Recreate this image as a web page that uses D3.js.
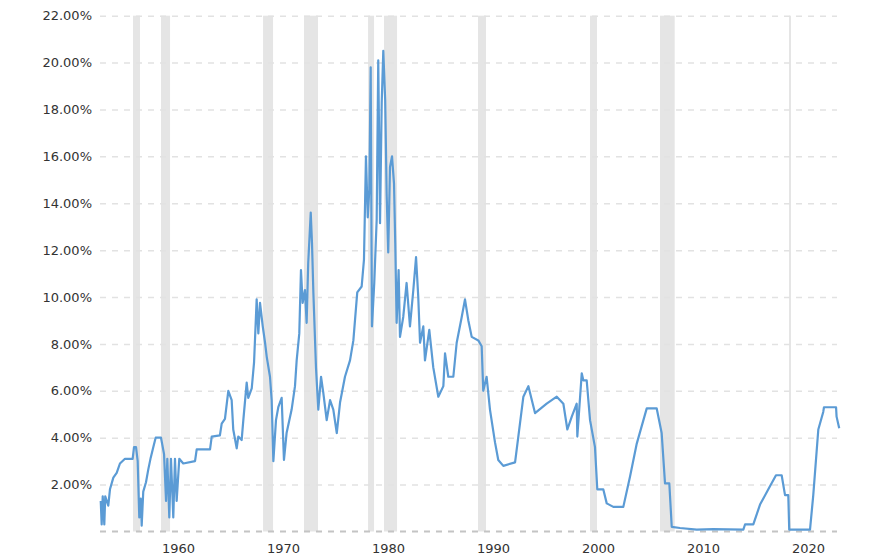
<!DOCTYPE html>
<html>
<head>
<meta charset="utf-8">
<script src="https://cdn.jsdelivr.net/npm/d3@7"></script>
<style>
  body { margin: 0; background: #fff; }
  text { font-family: "DejaVu Sans", Verdana, sans-serif; font-size: 13px; fill: #333; }
</style>
</head>
<body>
<svg width="888" height="560"></svg>
<script>
// decimal year (as placed on the chart's time axis)
var years = [1952.64,1952.73,1952.83,1952.98,1953.07,1953.36,1953.52,1953.84,1954.16,1954.47,1954.95,1955.68,1955.81,1956.0,1956.16,1956.31,1956.45,1956.54,1956.69,1956.95,1957.17,1957.4,1957.65,1957.87,1958.38,1958.67,1958.86,1958.98,1959.17,1959.33,1959.55,1959.71,1959.87,1960.12,1960.5,1961.62,1961.78,1963.05,1963.21,1963.99,1964.16,1964.47,1964.79,1965.11,1965.26,1965.59,1965.74,1966.06,1966.22,1966.54,1966.69,1967.02,1967.24,1967.49,1967.65,1967.81,1968.07,1968.29,1968.45,1968.76,1968.92,1969.08,1969.33,1969.55,1969.87,1970.09,1970.34,1970.82,1971.14,1971.3,1971.55,1971.71,1971.87,1972.09,1972.25,1972.4,1972.64,1972.76,1972.89,1973.14,1973.36,1973.62,1973.84,1974.16,1974.48,1974.79,1975.12,1975.43,1975.9,1976.38,1976.7,1977.07,1977.49,1977.71,1977.9,1978.07,1978.22,1978.35,1978.47,1978.69,1978.92,1979.07,1979.24,1979.4,1979.55,1979.73,1979.87,1980.02,1980.19,1980.38,1980.57,1980.69,1980.82,1981.01,1981.14,1981.45,1981.77,1982.09,1982.41,1982.67,1982.88,1983.05,1983.36,1983.52,1983.93,1984.31,1984.79,1985.27,1985.43,1985.74,1986.22,1986.54,1987.02,1987.33,1987.65,1987.97,1988.6,1988.92,1989.07,1989.39,1989.71,1990.19,1990.5,1990.98,1992.1,1992.41,1992.89,1993.37,1994.0,1995.11,1996.07,1996.7,1997.08,1997.5,1997.97,1998.03,1998.45,1998.6,1998.92,1999.24,1999.71,1999.93,2000.5,2000.83,2001.46,2002.41,2003.05,2003.69,2004.64,2005.59,2006.06,2006.38,2006.79,2007.02,2007.81,2009.4,2010.98,2013.84,2014.0,2014.79,2015.43,2016.22,2016.95,2017.49,2017.81,2018.12,2018.21,2020.19,2020.5,2020.98,2021.45,2021.52,2022.67,2022.72,2022.97];
// rate in percent
var rates = [1.3,0.3,1.5,0.3,1.5,1.1,1.8,2.3,2.5,2.9,3.1,3.1,3.6,3.6,3.0,0.6,1.4,0.25,1.7,2.1,2.65,3.15,3.6,4.0,4.0,3.3,1.3,3.1,0.6,3.1,0.6,3.1,1.3,3.1,2.9,3.0,3.5,3.5,4.05,4.1,4.6,4.8,6.0,5.6,4.35,3.55,4.05,3.9,4.75,6.35,5.7,6.1,7.2,9.9,8.45,9.75,8.75,8.05,7.45,6.6,5.6,3.0,4.75,5.3,5.7,3.05,4.2,5.2,6.2,7.3,8.45,11.15,9.75,10.3,8.9,11.45,13.6,12.3,10.2,7.0,5.2,6.6,5.9,4.75,5.6,5.2,4.2,5.5,6.6,7.3,8.15,10.2,10.45,11.6,16.0,13.4,14.6,19.8,8.75,10.6,13.3,20.1,13.15,18.3,20.5,18.4,14.4,11.9,15.55,16.0,14.85,12.3,8.9,11.15,8.3,9.15,10.6,8.75,10.3,11.7,10.0,8.05,8.75,7.3,8.6,7.0,5.75,6.2,7.6,6.6,6.6,8.05,9.15,9.9,9.0,8.3,8.15,7.9,6.0,6.6,5.2,3.8,3.05,2.8,2.95,4.05,5.75,6.2,5.05,5.45,5.75,5.45,4.35,4.9,5.45,4.05,6.75,6.45,6.45,4.75,3.6,1.8,1.8,1.2,1.05,1.05,2.35,3.75,5.25,5.25,4.2,2.05,2.05,0.2,0.15,0.08,0.1,0.08,0.3,0.3,1.15,1.8,2.4,2.4,1.55,1.55,0.08,0.08,1.55,4.35,5.1,5.3,5.3,4.9,4.4];
// shaded periods [start, end]
var recessions = [[1955.71,1956.38],[1958.38,1959.24],[1968.1,1969.05],[1972.0,1973.33],[1978.1,1978.67],[1979.62,1980.86],[1988.57,1989.33],[1999.24,1999.9],[2005.9,2007.3],[2018.19,2018.38]];
var yTicks = [2,4,6,8,10,12,14,16,18,20,22];
var xTicks = [1960,1970,1980,1990,2000,2010,2020];

var svg = d3.select("svg");
var x = d3.scaleLinear().domain([1952.57, 2022.76]).range([100, 837]);
var y = d3.scaleLinear().domain([0, 22]).range([531.5, 15.7]);

svg.selectAll("rect.rec")
  .data(recessions)
  .enter().append("rect")
    .attr("class", "rec")
    .attr("x", function(d){ return x(d[0]) })
    .attr("width", function(d){ return Math.max(2, x(d[1]) - x(d[0])) })
    .attr("y", y(22))
    .attr("height", y(0) - y(22))
    .attr("fill", "#e5e5e5")

// grid lines + y labels
var yAxis = d3.axisLeft(y).tickValues(yTicks).tickSize(0).tickPadding(8)
  .tickFormat(function(d){ return d.toFixed(2) + "%" })
var gy = svg.append("g").attr("transform", "translate(100,0)").call(yAxis)
gy.select(".domain").remove()
gy.selectAll(".tick line").clone()
  .attr("x2", 737)
  .attr("stroke", "#e2e2e2")
  .attr("stroke-dasharray", "6,6")
  .attr("stroke-width", 1.5)

// baseline
svg.append("line")
  .attr("x1", 100).attr("x2", 837)
  .attr("y1", y(0)).attr("y2", y(0))
  .attr("stroke", "#c4c4c4")
  .attr("stroke-dasharray", "6,6")
  .attr("stroke-width", 2)

var xAxis = d3.axisBottom(x).tickValues(xTicks).tickSize(0).tickPadding(12).tickFormat(d3.format("d"))
var gx = svg.append("g").attr("transform", "translate(0," + y(0) + ")").call(xAxis)
gx.select(".domain").remove()

svg.selectAll(".tick text").style("font-size", "13px").attr("fill", "#333")

var line = d3.line()
  .x(function(d){ return x(d[0]) })
  .y(function(d){ return y(d[1]) })
  .curve(d3.curveStepAfter)

svg.append("path")
  .datum(d3.zip(years, rates))
  .attr("d", d3.line().x(function(d){ return x(d[0]) }).y(function(d){ return y(d[1]) }))
  .attr("fill", "none")
  .attr("stroke", "#5b9bd5")
  .attr("stroke-width", 2.2)
  .attr("stroke-linejoin", "round")
</script>
</body>
</html>
